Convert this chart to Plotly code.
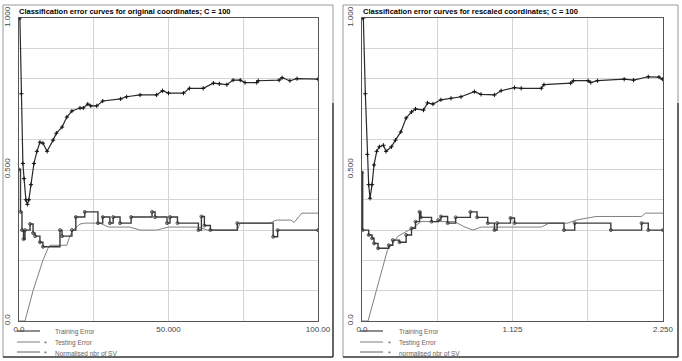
import plotly.graph_objects as go

# ---------------- data ----------------
titles = ["Classification error curves for original coordinates; C = 100",
          "Classification error curves for rescaled coordinates; C = 100"]
series_names = ["Training Error", "Testing Error", "Normalised nbr of SV"]
series_names_right = ["Training Error", "Testing Error", "normalised nbr of SV"]

x_ticks_left = [0, 25, 50, 75, 100]
x_ticktext_left = ["0.0", "", "50.000", "", "100.00"]
x_ticks_right = [0, 0.5625, 1.125, 1.6875, 2.25]
x_ticktext_right = ["0.0", "", "1.125", "", "2.250"]
y_ticks = [0, 0.1, 0.2, 0.3, 0.4, 0.5, 0.6, 0.7, 0.8, 0.9, 1.0]
y_ticktext = ["0.0", "", "", "", "", "0.500", "", "", "", "", "1.000"]

# left panel (original coordinates)
L_train_x = [0, 1.5, 2, 4.7, 8, 9.7, 10.4, 16, 17, 18, 20.4, 22, 27, 30, 37, 40.5, 46, 48, 50, 60, 63, 73, 74, 84, 86, 91, 92, 94.6, 100]
L_train_y = [0, 0, 0.0, 0.10, 0.20, 0.24, 0.25, 0.25, 0.28, 0.30, 0.32, 0.323, 0.323, 0.31, 0.31, 0.30, 0.30, 0.305, 0.31, 0.31, 0.30, 0.30, 0.323, 0.323, 0.333, 0.333, 0.325, 0.356, 0.356]

L_test_x = [0, 0.5, 1, 1.5, 2, 3.7, 4.7, 5.4, 7, 8, 13.7, 14.4, 17.7, 19, 22, 26.4, 28, 30.4, 31.5, 33.8, 37.5, 44.5, 45.5, 49.5, 50.5, 53, 60, 61, 62, 64, 73, 85, 86.5, 100]
L_test_y = [0.5, 0.36, 0.30, 0.27, 0.30, 0.32, 0.29, 0.28, 0.26, 0.245, 0.30, 0.28, 0.30, 0.343, 0.36, 0.323, 0.343, 0.323, 0.343, 0.323, 0.343, 0.36, 0.343, 0.323, 0.343, 0.323, 0.30, 0.345, 0.315, 0.30, 0.323, 0.278, 0.30, 0.30]

L_sv_x = [0.3, 0.8, 1.3, 1.7, 2.3, 2.8, 3.3, 4, 5, 6, 7, 8, 9.4, 11.4, 12.5, 14.4, 16, 17.7, 20.4, 21.5, 23, 24, 26, 28, 34, 36, 40.5, 46, 48, 50, 55, 57, 61.6, 65, 67, 69.5, 71.6, 74, 75.6, 79.5, 80, 87, 88, 90.6, 93, 100]
L_sv_y = [1.0, 0.75, 0.52, 0.47, 0.40, 0.385, 0.40, 0.45, 0.52, 0.56, 0.59, 0.587, 0.56, 0.597, 0.62, 0.64, 0.673, 0.693, 0.703, 0.703, 0.716, 0.71, 0.71, 0.726, 0.733, 0.74, 0.746, 0.746, 0.76, 0.752, 0.752, 0.768, 0.768, 0.785, 0.783, 0.78, 0.795, 0.795, 0.787, 0.787, 0.793, 0.795, 0.803, 0.793, 0.80, 0.798]

# right panel (rescaled coordinates)
R_train_x = [0, 0.045, 0.19, 0.27, 0.39, 0.44, 0.69, 0.77, 0.83, 0.89, 0.95, 1.0, 1.34, 1.4, 1.54, 1.6, 1.7, 1.75, 2.09, 2.12, 2.25]
R_train_y = [0, 0, 0.234, 0.28, 0.31, 0.328, 0.328, 0.31, 0.30, 0.31, 0.31, 0.31, 0.31, 0.323, 0.323, 0.333, 0.34, 0.345, 0.345, 0.356, 0.356]

R_test_x = [0.0, 0.005, 0.05, 0.075, 0.09, 0.12, 0.2, 0.23, 0.28, 0.33, 0.37, 0.40, 0.43, 0.44, 0.52, 0.57, 0.59, 0.64, 0.70, 0.81, 0.86, 0.94, 0.99, 1.01, 1.11, 1.14, 1.51, 1.59, 1.86, 2.09, 2.14, 2.25]
R_test_y = [0.49, 0.30, 0.284, 0.273, 0.256, 0.24, 0.25, 0.267, 0.26, 0.284, 0.306, 0.328, 0.36, 0.342, 0.328, 0.333, 0.345, 0.323, 0.342, 0.36, 0.342, 0.323, 0.30, 0.323, 0.34, 0.323, 0.30, 0.323, 0.30, 0.323, 0.30, 0.30]

R_sv_x = [0.0, 0.01, 0.025, 0.04, 0.05, 0.06, 0.075, 0.09, 0.11, 0.13, 0.16, 0.18, 0.22, 0.25, 0.29, 0.33, 0.37, 0.40, 0.46, 0.49, 0.53, 0.59, 0.665, 0.74, 0.84, 0.89, 0.99, 1.04, 1.14, 1.19, 1.34, 1.36, 1.56, 1.58, 1.69, 1.71, 1.76, 1.96, 2.03, 2.14, 2.22, 2.245]
R_sv_y = [1.0, 1.0, 0.75, 0.55, 0.45, 0.405, 0.45, 0.515, 0.56, 0.575, 0.58, 0.56, 0.575, 0.597, 0.624, 0.67, 0.69, 0.70, 0.696, 0.72, 0.716, 0.73, 0.735, 0.74, 0.757, 0.748, 0.746, 0.76, 0.77, 0.768, 0.768, 0.78, 0.785, 0.793, 0.793, 0.787, 0.793, 0.798, 0.795, 0.806, 0.805, 0.798]

# ---------------- figure ----------------
W, H = 682, 361
def px(x): return x / W
def py(y): return (H - y) / H

FONT = "Liberation Sans, Arial, sans-serif"
fig = go.Figure()

panels = [
    dict(xa="x", ya="y", names=series_names,
         tr=(L_train_x, L_train_y), te=(L_test_x, L_test_y), sv=(L_sv_x, L_sv_y)),
    dict(xa="x2", ya="y2", names=series_names_right,
         tr=(R_train_x, R_train_y), te=(R_test_x, R_test_y), sv=(R_sv_x, R_sv_y)),
]
for p in panels:
    fig.add_trace(go.Scatter(x=p["tr"][0], y=p["tr"][1], mode="lines", name=p["names"][0],
                             line=dict(color="#808080", width=1), xaxis=p["xa"], yaxis=p["ya"]))
    fig.add_trace(go.Scatter(x=p["te"][0], y=p["te"][1], mode="lines+markers", name=p["names"][1],
                             line=dict(color="#3a3a3a", width=1.4, shape="hv"),
                             marker=dict(symbol="circle-open", size=3, color="#333333", line=dict(width=0.8)),
                             xaxis=p["xa"], yaxis=p["ya"]))
    fig.add_trace(go.Scatter(x=p["sv"][0], y=p["sv"][1], mode="lines+markers", name=p["names"][2],
                             line=dict(color="#2a2a2a", width=1.2),
                             marker=dict(symbol="cross-thin", size=3, color="#111111", line=dict(width=1, color="#111111")),
                             xaxis=p["xa"], yaxis=p["ya"]))

ydom = [py(321), py(18)]
axis_common = dict(showgrid=True, gridcolor="#d4d4d4", gridwidth=1, zeroline=False,
                   showline=True, linecolor="#555555", linewidth=1, mirror=True,
                   ticks="", tickfont=dict(family=FONT, size=8, color="#444444"))
fig.update_layout(
    width=W, height=H, margin=dict(l=0, r=0, t=0, b=0),
    paper_bgcolor="white", plot_bgcolor="white", showlegend=False,
    xaxis=dict(domain=[px(19), px(318)], range=[0, 100], tickvals=x_ticks_left,
               ticktext=x_ticktext_left, anchor="y", automargin=False, **axis_common),
    yaxis=dict(domain=ydom, range=[0, 1], tickvals=y_ticks, ticktext=y_ticktext,
               tickangle=-90, anchor="x", automargin=False, ticklabelstandoff=5, **axis_common),
    xaxis2=dict(domain=[px(362), px(663)], range=[0, 2.25], tickvals=x_ticks_right,
                ticktext=x_ticktext_right, anchor="y2", automargin=False, **axis_common),
    yaxis2=dict(domain=ydom, range=[0, 1], tickvals=y_ticks, ticktext=y_ticktext,
                tickangle=-90, anchor="x2", automargin=False, ticklabelstandoff=5, **axis_common),
)

# panel frames
for (x0, x1) in [(3, 333), (343, 678)]:
    fig.add_shape(type="rect", xref="paper", yref="paper", x0=px(x0), x1=px(x1),
                  y0=py(357), y1=py(5), line=dict(color="#999999", width=1))
    # darker bottom / right shadow edges of the frames
    fig.add_shape(type="line", xref="paper", yref="paper", x0=px(x0), x1=px(x1),
                  y0=py(357), y1=py(357), line=dict(color="#444444", width=1.5))
    fig.add_shape(type="line", xref="paper", yref="paper", x0=px(x1), x1=px(x1),
                  y0=py(357), y1=py(103), line=dict(color="#444444", width=1.5))
# titles
for t, x0 in zip(titles, [17, 361]):
    fig.add_annotation(text="<b>%s</b>" % t, xref="paper", yref="paper", x=px(x0), y=py(11),
                       xanchor="left", yanchor="middle", showarrow=False,
                       font=dict(family=FONT, size=7.5, color="#000000"))

# manual legends (compact, as in the reference)
leg_styles = [dict(color="#444444", width=1.2), dict(color="#808080", width=1), dict(color="#b0b0b0", width=2)]
leg_marker = [False, True, True]
for names, lx0, lx1, sx, tx in [(series_names, 17, 40, 45, 53), (series_names_right, 360, 383, 389, 397)]:
    for i, (nm, ly) in enumerate(zip(names, [331, 342, 352])):
        fig.add_shape(type="line", xref="paper", yref="paper", x0=px(lx0), x1=px(lx1),
                      y0=py(ly), y1=py(ly), line=leg_styles[i])
        if leg_marker[i]:
            fig.add_annotation(text="*", xref="paper", yref="paper", x=px(sx), y=py(ly + 1),
                               xanchor="center", yanchor="middle", showarrow=False,
                               font=dict(family=FONT, size=7, color="#555555"))
        fig.add_annotation(text=nm, xref="paper", yref="paper", x=px(tx), y=py(ly + 1),
                           xanchor="left", yanchor="middle", showarrow=False,
                           font=dict(family=FONT, size=6.5, color="#666666"))

fig.write_html("out.html")
